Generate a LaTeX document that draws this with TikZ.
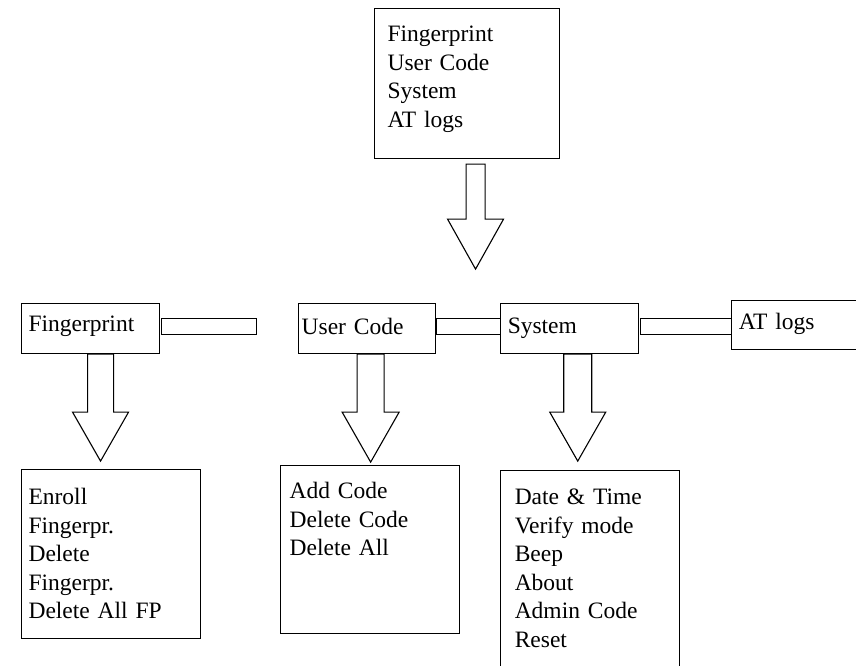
\documentclass[tikz,border=0pt]{standalone}
\usepackage{fontspec}
\setmainfont{Liberation Serif}
\usepackage{tikz}
\usetikzlibrary{calc,positioning}
\tikzstyle{box} =
  [rectangle, draw, line width=1.1pt, inner ysep=0pt, align=left,
   font=\fontsize{23.5pt}{28.5pt}\selectfont]
\tikzstyle{bar}=[draw,line width=1.1pt]

\begin{document}
\begin{tikzpicture}[x=1pt, y=1pt, line width=1.1pt]
  \useasboundingbox (0,0) rectangle (856,-665);
  \node [box, anchor=north west, text width=159pt, inner xsep=13pt,
    text height=33pt, text depth=117pt] (menu) at (374,-8)
    {Fingerprint\\User Code\\System\\AT logs};
  \node [box, anchor=north west, text width=124pt, inner xsep=7pt,
    text height=28pt, text depth=22pt] (fp) at (21,-303) {Fingerprint};
  \node [box, right=138pt of fp, text width=131pt, inner xsep=3pt,
    text height=31pt, text depth=19pt] (uc) {User Code};
  \node [box, right=64pt of uc, text width=124pt, inner xsep=7pt,
    text height=30pt, text depth=20pt] (sys) {System};
  \node [box, right=92pt of sys, yshift=3.5pt, text width=113pt,
    inner xsep=7pt, text height=29pt, text depth=20pt] (at) {AT logs};

  \node [box, below=115pt of fp, xshift=20.5pt, text width=165pt,
    inner xsep=7pt, text height=35pt, text depth=134pt] (fplist)
    {Enroll\\Fingerpr.\\Delete\\Fingerpr.\\Delete All FP};
  \node [box, below=111pt of uc, xshift=3pt, text width=161pt,
    inner xsep=9pt, text height=33pt, text depth=135pt] (uclist)
    {Add Code\\Delete Code\\Delete All};
  \node [box, below=116pt of sys, xshift=20.5pt, text width=151pt,
    inner xsep=14pt, text height=34pt, text depth=164pt] (syslist)
    {Date \& Time\\Verify mode\\Beep\\About\\Admin Code\\Reset};

  % bars between the menu items
  \draw [bar] ($(fp.east)+(1,10)$) rectangle ($(fp.east)+(96,-6)$);
  \draw [bar] ($(uc.east)+(0,10)$) rectangle ($(sys.west)+(0,-6)$);
  \draw [bar] ($(sys.east)+(1,10)$) rectangle ($(sys.east -| at.west)+(0,-6)$);

  % hollow arrows
  \draw ($(menu.south)+(-1,-5)$) -- ++(0,-55) -- ++(-18.5,0) -- ++(28,-50)
    -- ++(28,50) -- ++(-18.5,0) -- ++(0,55) -- cycle;
  \draw ($(fp.south)+(-3,0)$) -- ++(0,-58) -- ++(-15,0) -- ++(28,-49)
    -- ++(28,49) -- ++(-15,0) -- ++(0,58) -- cycle;
  \draw ($(uc.south)+(-10,0)$) -- ++(0,-58) -- ++(-15,0) -- ++(28.5,-50)
    -- ++(28.5,50) -- ++(-15,0) -- ++(0,58) -- cycle;
  \draw ($(sys.south)+(-6,0)$) -- ++(0,-58) -- ++(-14,0) -- ++(28,-49)
    -- ++(28,49) -- ++(-14,0) -- ++(0,58) -- cycle;
\end{tikzpicture}
\end{document}
